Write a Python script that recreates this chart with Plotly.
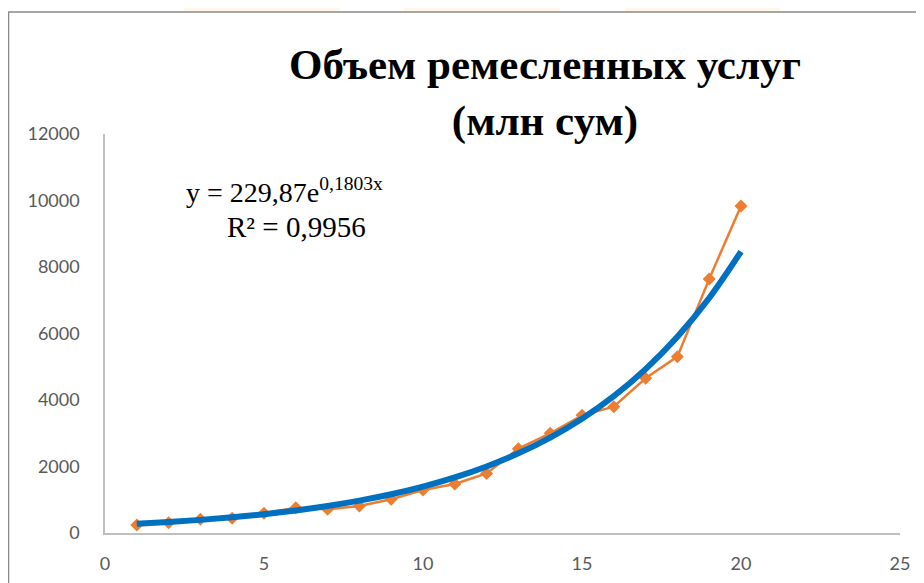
import plotly.graph_objects as go

years = list(range(1, 21))
volume = [240, 310, 412, 442, 592, 762, 712, 812, 1013, 1293,
          1474, 1790, 2536, 2998, 3540, 3800, 4653, 5304, 7640, 9836]
trend = [275, 330, 395, 473, 566, 678, 812, 973, 1165, 1395,
         1671, 2001, 2396, 2869, 3436, 4115, 4928, 5902, 7068, 8464]
x_ticks = [0, 5, 10, 15, 20, 25]
y_ticks = [0, 2000, 4000, 6000, 8000, 10000, 12000]
y_tick_labels = ["0", "2000", "4000", "6000", "8000", "10000", "12000"]
title_text = "Объем ремесленных услуг<br>(млн сум)"
eq_line1 = "y = 229,87e<sup>0,1803x</sup>"
eq_line2 = "R² = 0,9956"

# page is offset by the 8px body margin
OFF = 8
W, H = 924 - OFF, 583 - OFF
L, R, T, B = 105 - OFF, 24, 134 - OFF, 50
pw, ph = W - L - R, H - T - B

def px(x):  # page pixel -> paper x
    return (x - OFF - L) / pw

def py(y):  # page pixel -> paper y
    return (H - B - (y - OFF)) / ph

fig = go.Figure()
fig.add_trace(go.Scatter(
    x=years, y=volume, mode="lines+markers",
    line=dict(color="#ED7D31", width=2.5),
    marker=dict(symbol="diamond", size=10, color="#ED7D31"),
    showlegend=False, hoverinfo="skip"))
fig.add_trace(go.Scatter(
    x=years, y=trend, mode="lines", line_shape="spline",
    line=dict(color="#0070C0", width=6),
    showlegend=False, hoverinfo="skip"))

tickfont = dict(family="Lato, sans-serif", size=18, color="#595959")
fig.update_xaxes(range=[0, 25], tickvals=x_ticks, showgrid=False, zeroline=False,
                 showline=True, linecolor="#BFBFBF", linewidth=1.5,
                 ticks="", ticklabelstandoff=14, tickfont=tickfont)
fig.update_yaxes(range=[0, 12000], tickvals=y_ticks, ticktext=y_tick_labels,
                 showgrid=False, zeroline=False,
                 showline=True, linecolor="#BFBFBF", linewidth=1.5,
                 ticks="", ticklabelstandoff=20, tickfont=tickfont)

shapes = []
for x0, x1 in [(184, 340), (404, 560), (625, 780)]:
    shapes.append(dict(type="rect", xref="paper", yref="paper",
                       x0=px(x0), x1=px(x1), y0=py(12), y1=py(0),
                       fillcolor="#FFF8EA", line=dict(width=0), layer="below"))
shapes.append(dict(type="rect", xref="paper", yref="paper",
                   x0=px(8.5), x1=px(940), y0=py(600), y1=py(12),
                   line=dict(color="#898989", width=1.5), fillcolor="rgba(0,0,0,0)",
                   layer="below"))

serif = "Liberation Serif, Times New Roman, serif"
fig.update_layout(
    width=W, height=H, margin=dict(l=L, r=R, t=T, b=B, autoexpand=False),
    paper_bgcolor="white", plot_bgcolor="white",
    shapes=shapes,
    annotations=[
        dict(text=title_text, xref="paper", yref="paper", x=px(545), y=py(93),
             xanchor="center", yanchor="middle", showarrow=False, align="center",
             font=dict(family=serif, size=43, color="black", weight="bold")),
        dict(text=eq_line1, xref="paper", yref="paper", x=px(284), y=py(190),
             xanchor="center", yanchor="middle", showarrow=False,
             font=dict(family=serif, size=28, color="black")),
        dict(text=eq_line2, xref="paper", yref="paper", x=px(296), y=py(227),
             xanchor="center", yanchor="middle", showarrow=False,
             font=dict(family=serif, size=29, color="black")),
    ],
)

fig.write_html("out.html")
